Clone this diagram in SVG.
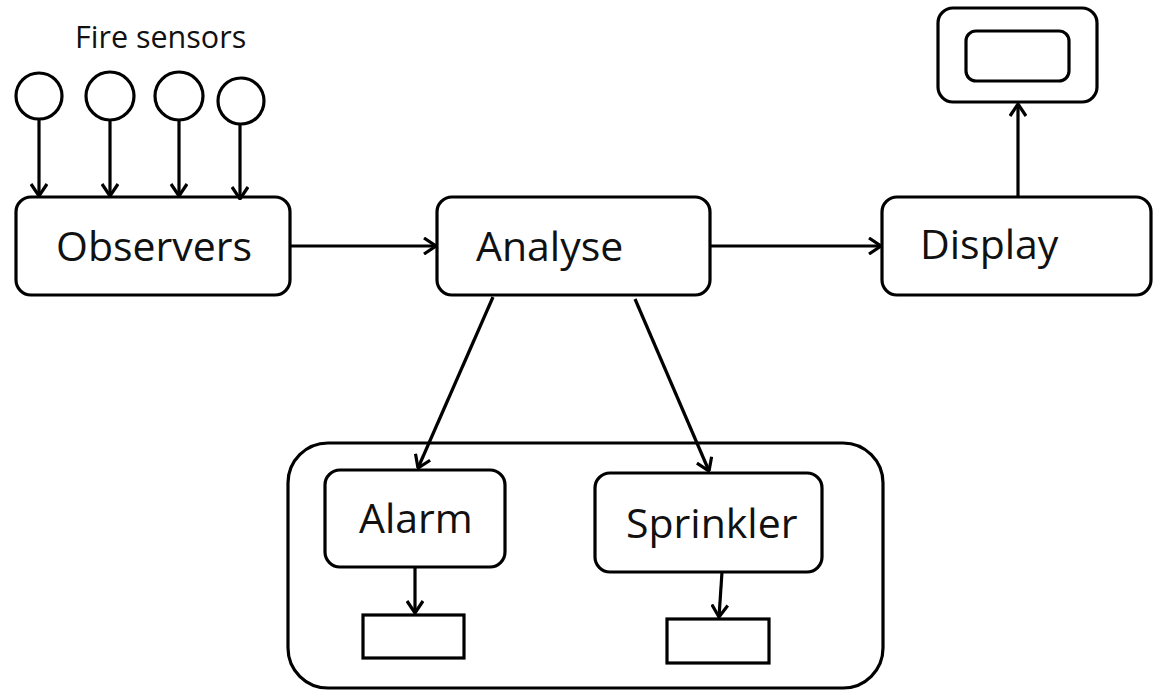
<svg xmlns="http://www.w3.org/2000/svg" width="1153" height="691" viewBox="0 0 1153 691">
<style>
.box{fill:#fff;stroke:#000;stroke-width:3.2}
.lbl{font-family:"Open Sans","Noto Sans",sans-serif;font-size:41px;fill:#111}
.cap{font-family:"Open Sans","Noto Sans",sans-serif;font-size:30.5px;fill:#111}
.conn{stroke:#000;stroke-width:3.2;fill:none;marker-end:url(#arr)}
</style>
<defs>
<marker id="arr" viewBox="0 0 14 18" refX="13" refY="9" markerWidth="14" markerHeight="18" markerUnits="userSpaceOnUse" orient="auto">
<path d="M1,1 L13,9 L1,17" fill="none" stroke="#000" stroke-width="3.2" stroke-linejoin="miter"/>
</marker>
</defs>
<rect width="1153" height="691" fill="#fff"/>
<text class="cap" x="75" y="48">Fire sensors</text>
<g id="sensor1"><circle class="box" cx="39" cy="96" r="23"/></g>
<g id="sensor2"><circle class="box" cx="110" cy="96" r="24"/></g>
<g id="sensor3"><circle class="box" cx="179" cy="96" r="24"/></g>
<g id="sensor4"><circle class="box" cx="241" cy="101" r="23"/></g>
<g id="container"><rect class="box" x="288" y="443" width="595" height="245" rx="40"/></g>
<g id="observers"><rect class="box" x="16" y="197" width="274" height="98" rx="15"/><text class="lbl" x="56" y="261">Observers</text></g>
<g id="analyse"><rect class="box" x="437" y="197" width="273" height="98" rx="15"/><text class="lbl" x="476" y="261">Analyse</text></g>
<g id="display"><rect class="box" x="882" y="197" width="269" height="98" rx="15"/><text class="lbl" x="920" y="259">Display</text></g>
<g id="screen"><rect class="box" x="938" y="8" width="159" height="94" rx="15"/><rect class="box" x="966" y="31" width="103" height="50" rx="10"/></g>
<g id="alarm"><rect class="box" x="325" y="470" width="180" height="97" rx="15"/><text class="lbl" x="359" y="533">Alarm</text></g>
<g id="sprinkler"><rect class="box" x="595" y="473" width="227" height="99" rx="15"/><text class="lbl" x="626" y="538">Sprinkler</text></g>
<g id="alarm-device"><rect class="box" x="363" y="615" width="101" height="43"/></g>
<g id="sprinkler-device"><rect class="box" x="667" y="619" width="102" height="44"/></g>
<g id="connectors">
<line class="conn" x1="39" y1="119" x2="39" y2="196"/>
<line class="conn" x1="110" y1="120" x2="110" y2="196"/>
<line class="conn" x1="179" y1="120" x2="179" y2="196"/>
<line class="conn" x1="240" y1="124" x2="240" y2="199"/>
<line class="conn" x1="290" y1="246" x2="436" y2="246"/>
<line class="conn" x1="710" y1="246" x2="881" y2="246"/>
<line class="conn" x1="1018" y1="197" x2="1018" y2="104"/>
<line class="conn" x1="493" y1="297" x2="418" y2="468"/>
<line class="conn" x1="635" y1="299" x2="709" y2="471"/>
<line class="conn" x1="415" y1="567" x2="415" y2="613"/>
<line class="conn" x1="722" y1="572" x2="719" y2="617"/>
</g>
</svg>
